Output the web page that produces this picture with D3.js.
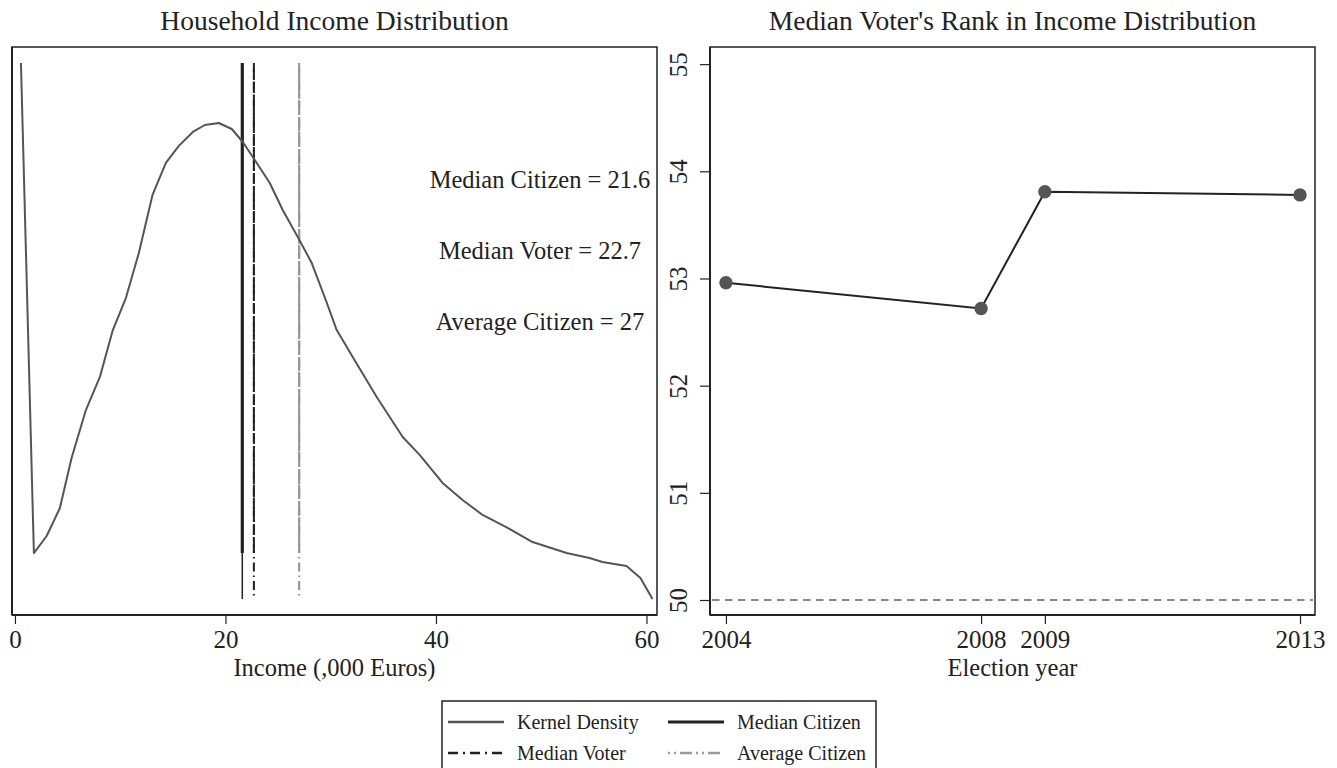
<!DOCTYPE html>
<html>
<head>
<meta charset="utf-8">
<script src="https://cdn.jsdelivr.net/npm/d3@7"></script>
<style>
  html, body { margin: 0; padding: 0; background: #fff; }
  svg { display: block; font-family: "Liberation Serif", "Times New Roman", serif; }
</style>
</head>
<body>
<svg id="chart" width="1337" height="768"></svg>
<script>
// Kernel density estimate of household income (,000 Euros)
const incomeGrid = [0.57, 1.80, 3.01, 4.27, 5.38, 6.74, 8.07, 9.30, 10.54, 11.77, 13.07, 14.34,
  15.57, 16.90, 18.04, 19.37, 20.60, 21.65, 22.79, 24.21, 25.44, 26.87, 28.20, 29.53, 30.57,
  32.09, 34.37, 36.84, 38.45, 40.63, 42.53, 44.43, 46.81, 49.18, 52.41, 54.59, 55.82, 58.10,
  59.43, 60.57];
const densityValues = [0.0420, 0.00543, 0.00670, 0.00879, 0.01252, 0.01610, 0.01857, 0.02207,
  0.02446, 0.02782, 0.03215, 0.03454, 0.03581, 0.03685, 0.03737, 0.03752, 0.03707, 0.03610,
  0.03476, 0.03304, 0.03103, 0.02901, 0.02707, 0.02431, 0.02207, 0.02006, 0.01707, 0.01409,
  0.01275, 0.01066, 0.00939, 0.00827, 0.00730, 0.00625, 0.00543, 0.00506, 0.00476, 0.00446,
  0.00357, 0.00200];
const incomeTicks = [0, 20, 40, 60];

// Reference incomes
const refNames = ["Median Citizen", "Median Voter", "Average Citizen"];
const refValues = [21.6, 22.7, 27];

// Median voter's rank by election
const electionYears = [2004, 2008, 2009, 2013];
const medianVoterRank = [52.96, 52.72, 53.81, 53.78];
const rankTicks = [50, 51, 52, 53, 54, 55];
const rankBaseline = 50;

const svg = d3.select("#chart");
const ink = "#222";

// ---------- Left panel: income distribution ----------
const L = { left: 12, right: 657, top: 47, bottom: 615 };
const xInc = d3.scaleLinear().domain([-0.28, 61]).range([L.left, L.right]);
const yDen = d3.scaleLinear().domain([0.000806, 0.04319]).range([L.bottom, L.top]);

const left = svg.append("g");
left.append("rect")
  .attr("x", L.left).attr("y", L.top)
  .attr("width", L.right - L.left).attr("height", L.bottom - L.top)
  .attr("fill", "none").attr("stroke", ink).attr("stroke-width", 1.5);
left.append("line")
  .attr("x1", L.left).attr("x2", L.left).attr("y1", L.top).attr("y2", L.bottom)
  .attr("stroke", ink).attr("stroke-width", 2);

const dens = incomeGrid.map((x, i) => ({ x, y: densityValues[i] }));
const dMax = d3.max(densityValues), dMin = d3.min(densityValues);
const dKink = densityValues[1];

// vertical reference lines spanning the density range
const refG = left.append("g");
const refX = name => xInc(refValues[refNames.indexOf(name)]);
// Median citizen: solid
refG.append("line")
  .attr("x1", refX("Median Citizen")).attr("x2", refX("Median Citizen"))
  .attr("y1", yDen(dMax)).attr("y2", yDen(dMin))
  .attr("stroke", ink).attr("stroke-width", 1.5);
refG.append("line")
  .attr("x1", refX("Median Citizen")).attr("x2", refX("Median Citizen"))
  .attr("y1", yDen(dMax)).attr("y2", yDen(dKink))
  .attr("stroke", ink).attr("stroke-width", 3.2);
// Median voter: black dash-dot
refG.append("line")
  .attr("x1", refX("Median Voter")).attr("x2", refX("Median Voter"))
  .attr("y1", yDen(dMax)).attr("y2", yDen(dMin))
  .attr("stroke", ink).attr("stroke-width", 2)
  .attr("stroke-dasharray", "9,4,1.5,4");
refG.append("line")
  .attr("x1", refX("Median Voter")).attr("x2", refX("Median Voter"))
  .attr("y1", yDen(dMax) + 6).attr("y2", yDen(dKink))
  .attr("stroke", ink).attr("stroke-width", 2)
  .attr("stroke-dasharray", "11,2");
// Average citizen: grey dash-dot
refG.append("line")
  .attr("x1", refX("Average Citizen")).attr("x2", refX("Average Citizen"))
  .attr("y1", yDen(dMax)).attr("y2", yDen(dMin))
  .attr("stroke", "#999").attr("stroke-width", 2.2)
  .attr("stroke-dasharray", "9,4,1.5,4");
refG.append("line")
  .attr("x1", refX("Average Citizen")).attr("x2", refX("Average Citizen"))
  .attr("y1", yDen(dMax) + 6).attr("y2", yDen(dKink))
  .attr("stroke", "#999").attr("stroke-width", 2.2)
  .attr("stroke-dasharray", "14,2");

// density curve
left.append("path")
  .datum(dens)
  .attr("fill", "none").attr("stroke", "#555").attr("stroke-width", 2)
  .attr("stroke-linejoin", "round")
  .attr("d", d3.line().x(d => xInc(d.x)).y(d => yDen(d.y)));

// x axis
const xAxisL = left.append("g")
  .attr("transform", `translate(0,${L.bottom})`)
  .call(d3.axisBottom(xInc).tickValues(incomeTicks).tickSize(9).tickPadding(6).tickSizeOuter(0));
xAxisL.select(".domain").remove();
xAxisL.append("line").attr("x1", L.left).attr("x2", L.right).attr("stroke", ink).attr("stroke-width", 2);
xAxisL.selectAll(".tick line").attr("stroke", ink).attr("stroke-width", 1.2);
xAxisL.selectAll(".tick text").attr("font-size", 25).attr("fill", ink)
  .attr("font-family", "Liberation Serif");

// annotations
const annot = [
  `${refNames[0]} = ${refValues[0]}`,
  `${refNames[1]} = ${refValues[1]}`,
  `${refNames[2]} = ${refValues[2]}`
];
const annotY = [188, 259, 330];
left.selectAll("text.annot").data(annot).join("text")
  .attr("class", "annot")
  .attr("x", 540).attr("y", (d, i) => annotY[i])
  .attr("text-anchor", "middle").attr("font-size", 24.5).attr("fill", ink)
  .text(d => d);

left.append("text").attr("x", (L.left + L.right) / 2).attr("y", 30)
  .attr("text-anchor", "middle").attr("font-size", 27.5).attr("fill", ink)
  .text("Household Income Distribution");
left.append("text").attr("x", (L.left + L.right) / 2).attr("y", 676)
  .attr("text-anchor", "middle").attr("font-size", 24.5).attr("fill", ink)
  .text("Income (,000 Euros)");

// ---------- Right panel: median voter's rank ----------
const R = { left: 710, right: 1315, top: 47, bottom: 615 };
const xYear = d3.scaleLinear().domain([2003.75, 2013.235]).range([R.left, R.right]);
const yRank = d3.scaleLinear().domain([49.86, 55.16]).range([R.bottom, R.top]);

const right = svg.append("g");
right.append("rect")
  .attr("x", R.left).attr("y", R.top)
  .attr("width", R.right - R.left).attr("height", R.bottom - R.top)
  .attr("fill", "none").attr("stroke", ink).attr("stroke-width", 1.5);

right.append("line")
  .attr("x1", R.left + 2).attr("x2", R.right - 2)
  .attr("y1", yRank(rankBaseline)).attr("y2", yRank(rankBaseline))
  .attr("stroke", "#888").attr("stroke-width", 2).attr("stroke-dasharray", "7.5,5.5");

const yAxisR = right.append("g")
  .attr("transform", `translate(${R.left},0)`)
  .call(d3.axisLeft(yRank).tickValues(rankTicks).tickFormat(d3.format("d"))
    .tickSize(10).tickSizeOuter(0));
yAxisR.select(".domain").remove();
yAxisR.append("line").attr("y1", R.top).attr("y2", R.bottom).attr("stroke", ink).attr("stroke-width", 2);
yAxisR.selectAll(".tick line").attr("stroke", ink).attr("stroke-width", 1.2);
yAxisR.selectAll(".tick text")
  .attr("x", null).attr("dy", null).attr("y", null)
  .attr("text-anchor", "middle")
  .attr("transform", "translate(-23,0) rotate(-90)")
  .attr("font-size", 25).attr("fill", ink).attr("font-family", "Liberation Serif");

const xAxisR = right.append("g")
  .attr("transform", `translate(0,${R.bottom})`)
  .call(d3.axisBottom(xYear).tickValues(electionYears).tickFormat(d3.format("d"))
    .tickSize(9).tickPadding(6).tickSizeOuter(0));
xAxisR.select(".domain").remove();
xAxisR.append("line").attr("x1", R.left).attr("x2", R.right).attr("stroke", ink).attr("stroke-width", 2);
xAxisR.selectAll(".tick line").attr("stroke", ink).attr("stroke-width", 1.2);
xAxisR.selectAll(".tick text").attr("font-size", 25).attr("fill", ink)
  .attr("font-family", "Liberation Serif");

const ranks = electionYears.map((y, i) => ({ year: y, rank: medianVoterRank[i] }));
right.append("path").datum(ranks)
  .attr("fill", "none").attr("stroke", ink).attr("stroke-width", 2)
  .attr("d", d3.line().x(d => xYear(d.year)).y(d => yRank(d.rank)));
right.selectAll("circle").data(ranks).join("circle")
  .attr("cx", d => xYear(d.year)).attr("cy", d => yRank(d.rank)).attr("r", 6.7)
  .attr("fill", "#555");

right.append("text").attr("x", (R.left + R.right) / 2).attr("y", 30)
  .attr("text-anchor", "middle").attr("font-size", 27.5).attr("fill", ink)
  .text("Median Voter's Rank in Income Distribution");
right.append("text").attr("x", (R.left + R.right) / 2).attr("y", 676)
  .attr("text-anchor", "middle").attr("font-size", 24.5).attr("fill", ink)
  .text("Election year");

// ---------- Legend ----------
const legend = svg.append("g");
legend.append("rect").attr("x", 442).attr("y", 701).attr("width", 434).attr("height", 80)
  .attr("fill", "#fff").attr("stroke", ink).attr("stroke-width", 1.5);
const legendItems = [
  { label: "Kernel Density", color: "#555", width: 2.6, dash: null, col: 0, row: 0 },
  { label: refNames[0], color: ink, width: 2.8, dash: null, col: 1, row: 0 },
  { label: refNames[1], color: ink, width: 2.6, dash: "10,5,2,5", col: 0, row: 1 },
  { label: refNames[2], color: "#999", width: 2.6, dash: "2,4,2,4,12,4", col: 1, row: 1 }
];
const colX = [448, 668], rowY = [722, 753];
const li = legend.selectAll("g.item").data(legendItems).join("g").attr("class", "item");
li.append("line")
  .attr("x1", d => colX[d.col]).attr("x2", d => colX[d.col] + 56)
  .attr("y1", d => rowY[d.row]).attr("y2", d => rowY[d.row])
  .attr("stroke", d => d.color).attr("stroke-width", d => d.width)
  .attr("stroke-dasharray", d => d.dash);
li.append("text")
  .attr("x", d => colX[d.col] + 69).attr("y", d => rowY[d.row] + 7)
  .attr("font-size", 20).attr("fill", ink)
  .text(d => d.label);
</script>
</body>
</html>
